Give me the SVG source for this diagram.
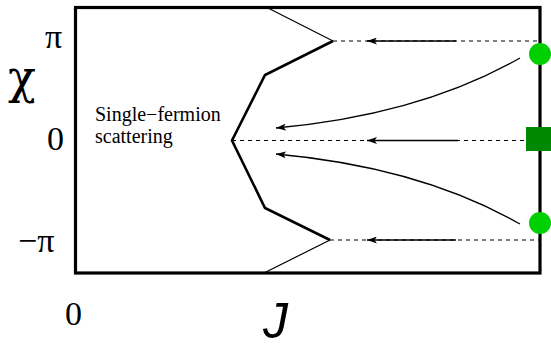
<svg xmlns="http://www.w3.org/2000/svg" width="551" height="350" viewBox="0 0 551 350">
<style>
.lbl{font-family:"Liberation Serif","DejaVu Serif","Times New Roman",serif;fill:#000}
.thin{fill:none;stroke:#000;stroke-width:1.2}
.thick{fill:none;stroke:#000;stroke-width:2.6;stroke-linejoin:miter}
.dash{fill:none;stroke:#000;stroke-width:1.2;stroke-dasharray:4 4}
.arr{fill:none;stroke:#000;stroke-width:1.3;marker-end:url(#ah)}
</style>
<defs>
<marker id="ah" viewBox="0 0 10 7" refX="10" refY="3.5" markerWidth="10" markerHeight="7" markerUnits="userSpaceOnUse" orient="auto">
<path d="M0,0 L10,3.5 L0,7 L2.5,3.5 Z" fill="#000"/>
</marker>
</defs>
<g id="frame">
<rect x="75.5" y="7.5" width="464.5" height="265.5" fill="#fff" stroke="#000" stroke-width="3.2"/>
</g>
<g id="boundary">
<polyline class="thin" points="266,7 333,41"/>
<polyline class="thick" points="333,41 265,75 232,140.5 265,208 330,240"/>
<polyline class="thin" points="330,240 264,273"/>
</g>
<g id="connectors">
<line class="dash" x1="333" y1="41" x2="540" y2="41"/>
<line class="dash" x1="232" y1="140.5" x2="527" y2="140.5"/>
<line class="dash" x1="330" y1="240" x2="540" y2="240"/>
<line class="arr" x1="456" y1="41" x2="367" y2="41"/>
<line class="arr" x1="458" y1="140.5" x2="367" y2="140.5"/>
<line class="arr" x1="456" y1="240" x2="367" y2="240"/>
<path class="arr" d="M520,58 Q420,115 276,128"/>
<path class="arr" d="M520,224 Q420,167 276,154"/>
</g>
<g id="node-top-circle"><circle cx="540" cy="54" r="11" fill="#00d000"/></g>
<g id="node-square"><rect x="526" y="127" width="26" height="24" fill="#008800"/></g>
<g id="node-bottom-circle"><circle cx="540" cy="223" r="11" fill="#00d000"/></g>
<g id="labels">
<text class="lbl" x="45" y="48" font-size="34">π</text>
<text x="8" y="93" font-size="46" font-family="DejaVu Serif, serif">χ</text>
<text class="lbl" x="47" y="150" font-size="34">0</text>
<text class="lbl" x="18" y="252" font-size="34">−π</text>
<text class="lbl" x="65" y="325" font-size="34">0</text>
<text x="263" y="338" font-size="50" font-style="italic" font-family="Liberation Sans, Arial, sans-serif">J</text>
<text class="lbl" x="95" y="121" font-size="20">Single−fermion</text>
<text class="lbl" x="95" y="143" font-size="20">scattering</text>
</g>
</svg>
